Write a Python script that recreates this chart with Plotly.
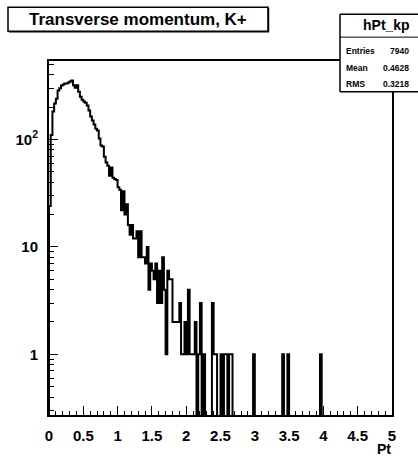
import numpy as np
import plotly.graph_objects as go

# ---------------- data ----------------
bin_low, bin_high = 0.0, 5.0
counts = [
    24, 110, 182, 216, 240, 286, 300, 318, 325, 332,
    332, 339, 346, 355, 320, 304, 320, 278, 250, 235,
    226, 220, 207, 186, 164, 150, 138, 126, 121, 102,
    88, 86, 69, 61, 57, 46, 55, 44, 43, 42,
    36, 34, 22, 33, 20, 25, 16, 13, 16, 12,
    12, 14, 8, 14, 8, 8, 7, 10, 4, 7,
    6, 5, 7, 3, 6, 3, 8, 4, 1, 6,
    5, 5, 2, 2, 2, 2, 3, 1, 1, 2,
    1, 4, 1, 1, 1, 2, 0, 1, 3, 0,
    1, 0, 0, 0, 0, 3, 1, 1, 0, 0,
    1, 0, 1, 1, 0, 1, 1, 0, 0, 0,
    0, 0, 0, 0, 0, 0, 0, 0, 0, 1,
    0, 0, 0, 0, 0, 0, 0, 0, 0, 0,
    0, 0, 0, 0, 0, 0, 1, 0, 0, 1,
    0, 0, 0, 0, 0, 0, 0, 0, 0, 0,
    0, 0, 0, 0, 0, 0, 0, 0, 1, 0,
    0, 0, 0, 0, 0, 0, 0, 0, 0, 0,
    0, 0, 0, 0, 0, 0, 0, 0, 0, 0,
    0, 0, 0, 0, 0, 0, 0, 0, 0, 0,
    0, 0, 0, 0, 0, 0, 0, 0, 0, 0,
]

x_tick_vals = [0, 0.5, 1, 1.5, 2, 2.5, 3, 3.5, 4, 4.5, 5]
x_tick_text = ["0", "0.5", "1", "1.5", "2", "2.5", "3", "3.5", "4", "4.5", "5"]
x_minor_step = 0.1
y_tick_vals = [1, 10, 100]
y_tick_text = ["1", "10", "10<sup>2</sup>"]
y_minor_vals = [0.3, 0.4, 0.5, 0.6, 0.7, 0.8, 0.9,
                2, 3, 4, 5, 6, 7, 8, 9,
                20, 30, 40, 50, 60, 70, 80, 90,
                200, 300, 400, 500]

title_text = "Transverse momentum, K+"
x_title = "Pt"
stats_name = "hPt_kp"
stats_labels = ["Entries", "Mean", "RMS"]
stats_values = ["7940", "0.4628", "0.3218"]

# ---------------- geometry ----------------
W, H = 418, 456
L, R, T, B = 49, 392, 61, 417          # plot frame in pixels
y_log_range = [-0.565, 2.731]

def px(x):
    return (x - L) / (R - L)

def py(y):
    return (B - y) / (B - T)

# ---------------- histogram outline ----------------
n = len(counts)
edges = np.linspace(bin_low, bin_high, n + 1)
floor_val = 10 ** (y_log_range[0] - 1)   # empty bins drop below the frame
vals = np.array([c if c > 0 else floor_val for c in counts], dtype=float)
xs = np.concatenate([[edges[0]], edges])
ys = np.concatenate([[floor_val], vals, [floor_val]])

fig = go.Figure()
fig.add_trace(go.Scatter(
    x=xs, y=ys, mode="lines", line=dict(color="black", width=2, shape="hv"),
    hoverinfo="skip", showlegend=False))

font_family = "Liberation Sans, Arial, Helvetica, sans-serif"

fig.update_layout(
    width=W, height=H, autosize=False,
    margin=dict(l=L, r=W - R, t=T, b=H - B, pad=0),
    paper_bgcolor="white", plot_bgcolor="white",
    showlegend=False,
    font=dict(family=font_family, color="black"),
    xaxis=dict(
        range=[bin_low, bin_high], showgrid=False, zeroline=False,
        showline=True, linecolor="black", linewidth=2, mirror=True,
        ticks="inside", ticklen=9, tickwidth=1, tickcolor="black",
        tickmode="array", tickvals=x_tick_vals, ticktext=x_tick_text,
        tickfont=dict(size=15, family=font_family, weight="bold"),
        ticklabelstandoff=6,
        minor=dict(ticks="inside", ticklen=4.5, tickwidth=1, tickcolor="black",
                   dtick=x_minor_step, tick0=0, showgrid=False),
    ),
    yaxis=dict(
        type="log", range=y_log_range, showgrid=False, zeroline=False,
        showline=True, linecolor="black", linewidth=2, mirror=True,
        ticks="inside", ticklen=9, tickwidth=1, tickcolor="black",
        tickmode="array", tickvals=y_tick_vals, ticktext=y_tick_text,
        tickfont=dict(size=15, family=font_family, weight="bold"),
        ticklabelstandoff=6,
        minor=dict(ticks="inside", ticklen=4.5, tickwidth=1, tickcolor="black",
                   tickmode="array", tickvals=y_minor_vals, showgrid=False),
    ),
)

shapes = []
# title box (with a small drop shadow on right / bottom like ROOT panes)
shapes.append(dict(type="rect", xref="paper", yref="paper",
                   x0=px(8), x1=px(268), y0=py(31), y1=py(7),
                   line=dict(color="black", width=1.5), fillcolor="white", layer="above"))
shapes.append(dict(type="line", xref="paper", yref="paper",
                   x0=px(268.5), x1=px(268.5), y0=py(31.5), y1=py(8),
                   line=dict(color="black", width=1.5), layer="above"))
shapes.append(dict(type="line", xref="paper", yref="paper",
                   x0=px(9), x1=px(269), y0=py(31.5), y1=py(31.5),
                   line=dict(color="black", width=1.5), layer="above"))
# stats box: runs off the right edge of the canvas, so no right border
box_l, box_r, box_t, box_b, box_sep = 340, 450, 14, 92, 37
shapes.append(dict(type="rect", xref="paper", yref="paper",
                   x0=px(box_l), x1=px(box_r), y0=py(box_b), y1=py(box_t),
                   line=dict(width=0), fillcolor="white", layer="above"))
for (x0, y0, x1, y1, w) in [(box_l, box_t, box_r, box_t, 1.5),
                            (box_l, box_b, box_r, box_b, 1.5),
                            (box_l, box_t, box_l, box_b, 1.5),
                            (box_l, box_sep, box_r, box_sep, 1)]:
    shapes.append(dict(type="line", xref="paper", yref="paper",
                       x0=px(x0), x1=px(x1), y0=py(y0), y1=py(y1),
                       line=dict(color="black", width=w), layer="above"))
fig.update_layout(shapes=shapes)

ann = []
ann.append(dict(text="<b>%s</b>" % title_text, xref="paper", yref="paper",
                x=px(138), y=py(19), xanchor="center", yanchor="middle",
                showarrow=False, font=dict(size=17, family=font_family)))
ann.append(dict(text="<b>%s</b>" % stats_name, xref="paper", yref="paper",
                x=px(386), y=py(25), xanchor="center", yanchor="middle",
                showarrow=False, font=dict(size=14, family=font_family)))
row_y = [51, 68, 84]
for lab, val, yy in zip(stats_labels, stats_values, row_y):
    ann.append(dict(text="<b>%s</b>" % lab, xref="paper", yref="paper",
                    x=px(344), y=py(yy), xanchor="left", yanchor="middle",
                    showarrow=False, font=dict(size=8.5, family=font_family)))
    ann.append(dict(text="<b>%s</b>" % val, xref="paper", yref="paper",
                    x=px(411), y=py(yy), xanchor="right", yanchor="middle",
                    showarrow=False, font=dict(size=8.5, family=font_family)))
ann.append(dict(text="<b>%s</b>" % x_title, xref="paper", yref="paper",
                x=px(393), y=py(451), xanchor="right", yanchor="middle",
                showarrow=False, font=dict(size=14, family=font_family)))
fig.update_layout(annotations=ann)

fig.write_html(
    "out.html",
    config={"displayModeBar": False},
    post_script="document.body.style.margin='0';document.body.style.padding='0';"
                "document.body.style.overflow='hidden';",
)
